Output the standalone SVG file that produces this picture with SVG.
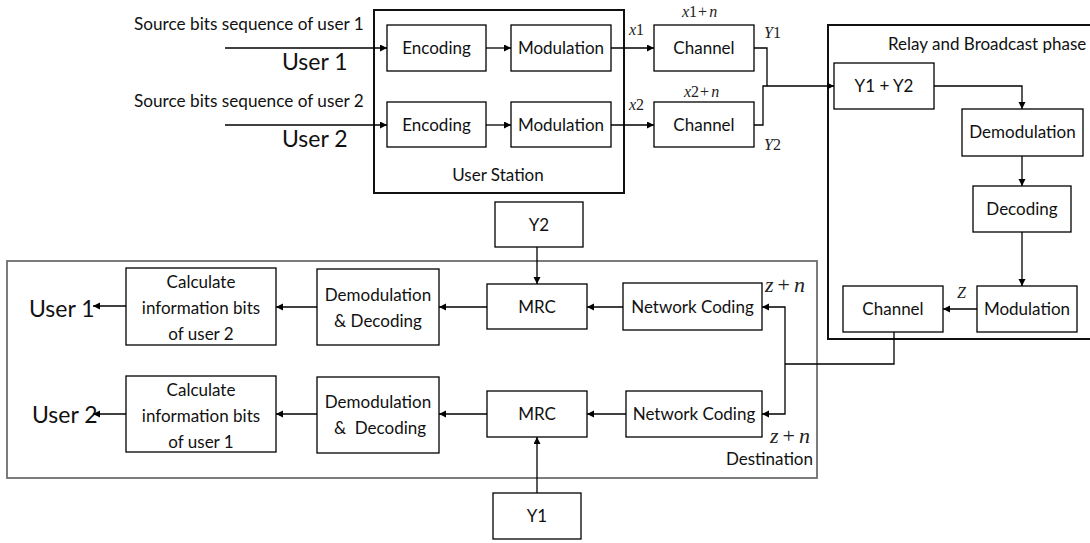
<svg xmlns="http://www.w3.org/2000/svg" width="1090" height="543" viewBox="0 0 1090 543">
  <style>
    .box { fill: #fff; stroke: #000; stroke-width: 1.3; }
    .frame { fill: none; stroke: #111; stroke-width: 2; }
    .frame-gray { fill: none; stroke: #6e6e6e; stroke-width: 1.8; }
    .t { font-family: Lato, "Open Sans", sans-serif; font-size: 17px; fill: #111; text-anchor: middle; }
    .src { font-family: Lato, "Open Sans", sans-serif; font-size: 17.2px; fill: #111; }
    .user { font-family: Lato, "Open Sans", sans-serif; font-size: 23px; fill: #111; }
    .m { font-family: "Liberation Serif", serif; font-style: italic; font-size: 16px; fill: #222; }
    .up { font-style: normal; }
    .mz { font-family: "Liberation Serif", serif; font-style: italic; font-size: 22px; fill: #222; }
    .wire { fill: none; stroke: #000; stroke-width: 1.3; }
    .arr { marker-end: url(#ah); }
  </style>
  <defs>
    <marker id="ah" markerUnits="userSpaceOnUse" markerWidth="8" markerHeight="8" refX="7" refY="3.5" orient="auto">
      <path d="M0,0 L7,3.5 L0,7 z" fill="#000"/>
    </marker>
  </defs>

  <rect width="1090" height="543" fill="#fff"/>

  <!-- source labels -->
  <g id="sources">
    <text class="src" x="134" y="30">Source bits sequence of user 1</text>
    <text class="user" x="282" y="70">User 1</text>
    <text class="src" x="134" y="107">Source bits sequence of user 2</text>
    <text class="user" x="282" y="147">User 2</text>
  </g>

  <!-- user station -->
  <g id="user-station">
    <rect class="frame" x="374" y="10" width="250" height="183"/>
    <text class="t" x="498" y="181">User Station</text>
  </g>
  <g id="encoding-1"><rect class="box" x="387" y="25" width="99" height="46"/><text class="t" x="436.5" y="54">Encoding</text></g>
  <g id="modulation-1"><rect class="box" x="511" y="25" width="100" height="46"/><text class="t" x="561" y="54">Modulation</text></g>
  <g id="encoding-2"><rect class="box" x="387" y="102" width="99" height="45"/><text class="t" x="436.5" y="131">Encoding</text></g>
  <g id="modulation-2"><rect class="box" x="511" y="102" width="100" height="45"/><text class="t" x="561" y="131">Modulation</text></g>

  <!-- channels -->
  <g id="channel-1"><rect class="box" x="654" y="25" width="100" height="46"/><text class="t" x="704" y="54">Channel</text></g>
  <g id="channel-2"><rect class="box" x="654" y="102" width="100" height="45"/><text class="t" x="704" y="131">Channel</text></g>

  <!-- relay -->
  <g id="relay">
    <rect class="frame" x="828" y="25" width="270" height="314"/>
    <text class="t" x="888" y="50" style="text-anchor:start">Relay and Broadcast phase</text>
  </g>
  <g id="relay-sum"><rect class="box" x="834" y="63" width="100" height="46"/><text class="t" x="884" y="92">Y1 + Y2</text></g>
  <g id="relay-demod"><rect class="box" x="962" y="109" width="121" height="47"/><text class="t" x="1022.5" y="138">Demodulation</text></g>
  <g id="relay-decod"><rect class="box" x="973" y="186" width="98" height="46"/><text class="t" x="1022" y="215">Decoding</text></g>
  <g id="relay-mod"><rect class="box" x="977" y="286" width="100" height="46"/><text class="t" x="1027" y="315">Modulation</text></g>
  <g id="relay-channel"><rect class="box" x="843" y="286" width="100" height="46"/><text class="t" x="893" y="315">Channel</text></g>

  <!-- destination -->
  <g id="destination">
    <rect class="frame-gray" x="7" y="261" width="810" height="217"/>
    <text class="t" x="813" y="465" style="text-anchor:end">Destination</text>
  </g>
  <g id="nc-1"><rect class="box" x="623" y="283" width="139" height="47"/><text class="t" x="692.5" y="313">Network Coding</text></g>
  <g id="nc-2"><rect class="box" x="626" y="391" width="136" height="46"/><text class="t" x="694" y="420">Network Coding</text></g>
  <g id="mrc-1"><rect class="box" x="487" y="284" width="100" height="45"/><text class="t" x="537" y="313">MRC</text></g>
  <g id="mrc-2"><rect class="box" x="487" y="391" width="100" height="46"/><text class="t" x="537" y="420">MRC</text></g>
  <g id="dd-1">
    <rect class="box" x="317" y="269" width="122" height="76"/>
    <text class="t" x="378" y="301">Demodulation</text>
    <text class="t" x="378" y="327">&amp; Decoding</text>
  </g>
  <g id="dd-2">
    <rect class="box" x="317" y="377" width="122" height="76"/>
    <text class="t" x="378" y="408">Demodulation</text>
    <text class="t" x="380" y="434" style="white-space:pre">&amp;  Decoding</text>
  </g>
  <g id="calc-1">
    <rect class="box" x="126" y="268" width="150" height="77"/>
    <text class="t" x="201" y="288">Calculate</text>
    <text class="t" x="201" y="314">information bits</text>
    <text class="t" x="201" y="340">of user 2</text>
  </g>
  <g id="calc-2">
    <rect class="box" x="126" y="376" width="150" height="76"/>
    <text class="t" x="201" y="396">Calculate</text>
    <text class="t" x="201" y="422">information bits</text>
    <text class="t" x="201" y="448">of user 1</text>
  </g>
  <g id="out-user-1"><text class="user" x="29" y="317">User 1</text></g>
  <g id="out-user-2"><text class="user" x="32" y="423">User 2</text></g>
  <g id="y2-box"><rect class="box" x="495" y="202" width="88" height="45"/><text class="t" x="539" y="231">Y2</text></g>
  <g id="y1-box"><rect class="box" x="493" y="493" width="88" height="46"/><text class="t" x="537" y="522">Y1</text></g>

  <!-- signal labels -->
  <g id="labels">
    <text class="m" x="629" y="35">x<tspan class="up">1</tspan></text>
    <text class="m" x="629" y="110">x<tspan class="up">2</tspan></text>
    <text class="m" x="682" y="17">x<tspan class="up">1</tspan><tspan class="up" dx="1">+</tspan><tspan dx="2">n</tspan></text>
    <text class="m" x="684" y="97">x<tspan class="up">2</tspan><tspan class="up" dx="1">+</tspan><tspan dx="2">n</tspan></text>
    <text class="m" x="764" y="38">Y<tspan class="up">1</tspan></text>
    <text class="m" x="764" y="150">Y<tspan class="up">2</tspan></text>
    <text class="m" x="957" y="298">Z</text>
    <text class="mz" x="765" y="292">z<tspan class="up" dx="4">+</tspan><tspan dx="4">n</tspan></text>
    <text class="mz" x="770" y="443">z<tspan class="up" dx="4">+</tspan><tspan dx="4">n</tspan></text>
  </g>

  <!-- connectors -->
  <g id="connectors">
    <path class="wire arr" d="M225,48 H387"/>
    <path class="wire arr" d="M225,125 H387"/>
    <path class="wire arr" d="M486,48 H511"/>
    <path class="wire arr" d="M486,125 H511"/>
    <path class="wire arr" d="M611,48 H654"/>
    <path class="wire arr" d="M611,125 H654"/>
    <path class="wire" d="M754,48 H767 V86"/>
    <path class="wire arr" d="M754,125 H763 V86 H834"/>
    <path class="wire arr" d="M934,86 H1022 V109"/>
    <path class="wire arr" d="M1022,156 V186"/>
    <path class="wire arr" d="M1022,232 V286"/>
    <path class="wire arr" d="M977,309 H943"/>
    <path class="wire" d="M894,332 V364 H785"/>
    <path class="wire arr" d="M785,364 V307 H762"/>
    <path class="wire arr" d="M785,364 V414 H762"/>
    <path class="wire arr" d="M623,307 H587"/>
    <path class="wire arr" d="M626,414 H587"/>
    <path class="wire arr" d="M487,307 H439"/>
    <path class="wire arr" d="M487,414 H439"/>
    <path class="wire arr" d="M317,307 H276"/>
    <path class="wire arr" d="M317,414 H276"/>
    <path class="wire arr" d="M126,306 H93"/>
    <path class="wire arr" d="M126,414 H93"/>
    <path class="wire arr" d="M537,247 V284"/>
    <path class="wire arr" d="M537,493 V437"/>
  </g>
</svg>
